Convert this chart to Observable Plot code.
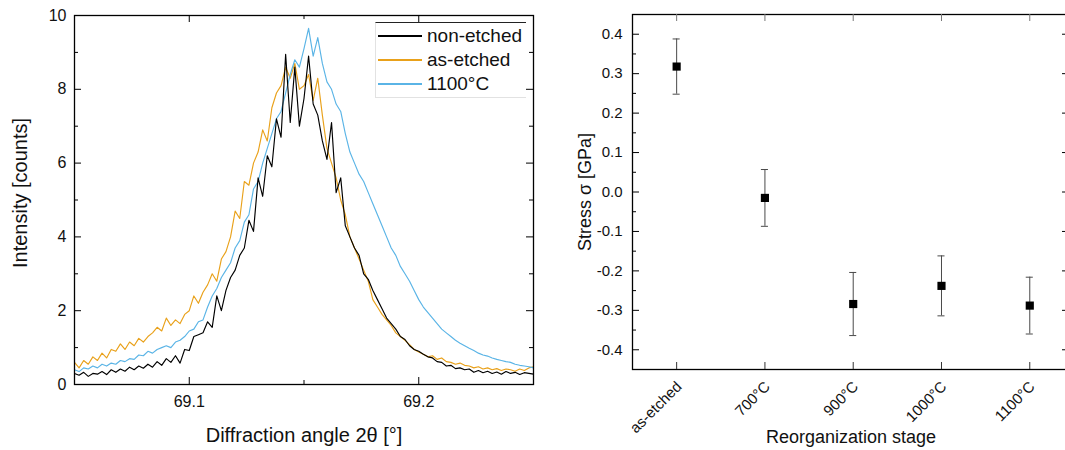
<!DOCTYPE html>
<html><head><meta charset="utf-8">
<script src="https://cdn.jsdelivr.net/npm/d3@7"></script>
<script src="https://cdn.jsdelivr.net/npm/@observablehq/plot@0.6"></script>
<style>
html,body{margin:0;padding:0;background:#fff;width:1065px;height:450px;overflow:hidden;}
#wrap{position:relative;width:1065px;height:450px;overflow:hidden;font-family:"Liberation Sans",Arial,sans-serif;}
#left{position:absolute;left:0;top:0;width:540px;height:450px;}
#right{position:absolute;left:540px;top:0;width:540px;height:450px;}
#wrap svg{max-width:none !important;}
.legend{position:absolute;left:375px;top:22px;width:151px;height:76px;background:#fff;border-top:1px solid #222;border-left:1px solid #e2e2e2;border-bottom:1px solid #e2e2e2;box-sizing:border-box;}
.item{position:absolute;left:2px;height:22px;font-size:19px;color:#111;line-height:22px;white-space:nowrap;}
.item .ln{display:inline-block;width:44px;height:1.6px;vertical-align:middle;margin-right:5px;position:relative;top:-1px;}
</style></head>
<body><div id="wrap"><div id="left"></div><div id="right"></div><div class="legend" id="legend"></div></div>
<script>
// ---------- Left panel data: XRD peak, sampled every 0.002° from 69.05° ----------
const angleStart = 69.05, angleStep = 0.002;
const nonEtched = [
 0.30,0.25,0.33,0.22,0.30,0.28,0.35,0.27,0.40,0.33,
 0.42,0.36,0.47,0.40,0.50,0.44,0.55,0.47,0.62,0.52,
 0.70,0.60,0.78,0.58,0.95,0.92,1.30,1.35,1.40,1.70,
 1.55,2.40,2.00,2.55,2.90,3.10,3.50,3.70,4.45,4.15,
 5.60,5.10,6.20,5.90,7.20,6.70,8.95,7.10,8.60,7.00,
 7.75,8.90,7.60,7.30,6.60,6.10,7.10,5.20,5.60,4.30,
 4.00,3.70,3.50,3.00,2.85,2.55,2.30,2.05,1.80,1.65,
 1.50,1.30,1.22,1.05,0.95,0.90,0.82,0.75,0.72,0.62,
 0.60,0.50,0.52,0.43,0.45,0.40,0.42,0.33,0.38,0.32,
 0.36,0.30,0.34,0.28,0.35,0.30,0.33,0.27,0.32,0.30,0.28];
const asEtched = [
 0.60,0.45,0.65,0.55,0.75,0.65,0.85,0.72,0.95,0.90,
 1.10,0.95,1.15,1.05,1.25,1.15,1.30,1.40,1.55,1.45,
 1.80,1.60,1.75,1.65,1.90,2.00,2.40,2.20,2.50,2.70,
 3.00,2.80,3.40,3.60,4.00,4.70,4.50,5.50,5.40,6.00,
 6.30,6.90,6.60,7.50,7.90,8.10,8.60,8.30,8.70,8.00,
 8.10,8.40,7.70,8.30,7.30,6.40,6.00,5.60,5.00,4.60,
 4.00,3.70,3.40,3.10,2.80,2.30,2.10,1.90,1.75,1.60,
 1.40,1.30,1.20,1.08,0.95,0.88,0.82,0.75,0.78,0.68,
 0.72,0.62,0.60,0.55,0.58,0.52,0.50,0.45,0.48,0.42,
 0.45,0.40,0.43,0.38,0.42,0.40,0.36,0.42,0.38,0.45,0.48];
const annealed1100 = [
 0.40,0.35,0.45,0.42,0.50,0.45,0.55,0.50,0.58,0.55,
 0.65,0.62,0.70,0.68,0.80,0.78,0.90,0.85,0.95,1.00,
 1.05,1.00,1.15,1.20,1.30,1.45,1.50,1.70,1.75,2.10,
 2.40,2.60,2.90,3.10,3.30,3.70,3.90,4.40,4.60,5.30,
 5.50,6.00,6.40,6.80,7.20,7.40,7.90,8.40,8.80,8.60,
 9.10,9.65,8.90,9.40,8.70,8.20,8.00,7.60,7.40,6.80,
 6.30,6.00,5.70,5.50,5.20,4.90,4.60,4.30,4.00,3.70,
 3.50,3.20,3.00,2.80,2.55,2.30,2.10,1.95,1.80,1.65,
 1.50,1.40,1.30,1.20,1.12,1.05,0.98,0.92,0.85,0.80,
 0.77,0.72,0.68,0.65,0.62,0.60,0.55,0.52,0.50,0.48,0.45];
const seriesNames = ["non-etched", "as-etched", "1100°C"];
const seriesColors = ["#000000", "#e9a11a", "#5ab4e6"];
const intensityTicks = [0, 2, 4, 6, 8, 10];
const intensityMinor = [1, 3, 5, 7, 9];
const angleTicks = [69.1, 69.2];
const angleMinor = [69.15];

// ---------- Right panel data ----------
const stages = ["as-etched", "700°C", "900°C", "1000°C", "1100°C"];
const stress = [0.318, -0.015, -0.284, -0.238, -0.288];
const stressErr = [0.070, 0.072, 0.080, 0.076, 0.072];
const stressTicks = [-0.4, -0.3, -0.2, -0.1, 0.0, 0.1, 0.2, 0.3, 0.4];
const stressMinor = [-0.35, -0.25, -0.15, -0.05, 0.05, 0.15, 0.25, 0.35];

const FONT = '"Liberation Sans", Arial, sans-serif';
const baseStyle = {fontFamily: FONT, fontSize: "15px", color: "#111", background: "transparent", overflow: "visible", maxWidth: "none"};

// ---------- Build left panel ----------
const seriesValues = [nonEtched, asEtched, annealed1100];
const rows = [];
seriesValues.forEach((vals, s) => vals.forEach((v, i) => rows.push({angle: angleStart + i * angleStep, value: v, series: seriesNames[s]})));

const LW = 540, LH = 450, Lm = {l: 74, r: 7, t: 15, b: 66};
const LFW = LW - Lm.l - Lm.r, LFH = LH - Lm.t - Lm.b;
const maj = 7, mnr = 4;
const drawOrder = [1, 2, 0];

const leftPlot = Plot.plot({
  width: LW, height: LH,
  marginLeft: Lm.l, marginRight: Lm.r, marginTop: Lm.t, marginBottom: Lm.b,
  x: {domain: [69.05, 69.25], axis: null},
  y: {domain: [0, 10], axis: null},
  style: baseStyle,
  marks: [
    ...drawOrder.map(s => Plot.line(rows.filter(r => r.series === seriesNames[s]), {x: "angle", y: "value", stroke: seriesColors[s], strokeWidth: 1.15})),
    Plot.frame({stroke: "#000", strokeWidth: 1.3}),
    Plot.tickY(intensityTicks, {y: d => d, insetRight: LFW - maj, stroke: "#000"}),
    Plot.tickY(intensityTicks, {y: d => d, insetLeft: LFW - maj, stroke: "#000"}),
    Plot.tickY(intensityMinor, {y: d => d, insetRight: LFW - mnr, stroke: "#000"}),
    Plot.tickY(intensityMinor, {y: d => d, insetLeft: LFW - mnr, stroke: "#000"}),
    Plot.tickX(angleTicks, {x: d => d, insetTop: LFH - maj, stroke: "#000"}),
    Plot.tickX(angleTicks, {x: d => d, insetBottom: LFH - maj, stroke: "#000"}),
    Plot.tickX(angleMinor, {x: d => d, insetTop: LFH - mnr, stroke: "#000"}),
    Plot.tickX(angleMinor, {x: d => d, insetBottom: LFH - mnr, stroke: "#000"}),
    Plot.axisX({ticks: angleTicks, tickSize: 0, tickPadding: 11, fontSize: 16, tickFormat: d => d.toFixed(1), label: null}),
    Plot.axisY({ticks: intensityTicks, tickSize: 0, tickPadding: 8, fontSize: 16, tickFormat: d => String(d), label: null}),
    Plot.text(["Diffraction angle 2θ [°]"], {frameAnchor: "bottom", lineAnchor: "middle", textAnchor: "middle", dy: 51, fontSize: 20, fill: "#111"}),
    Plot.text(["Intensity [counts]"], {frameAnchor: "left", lineAnchor: "middle", textAnchor: "middle", dx: -54, dy: -7, rotate: -90, fontSize: 20, fill: "#111"})
  ]
});
document.getElementById("left").appendChild(leftPlot);

// legend
const legend = document.getElementById("legend");
seriesNames.forEach((name, i) => {
  const it = document.createElement("div");
  it.className = "item";
  it.style.top = (2 + i * 24) + "px";
  const ln = document.createElement("span");
  ln.className = "ln";
  ln.style.background = seriesColors[i];
  it.appendChild(ln);
  it.appendChild(document.createTextNode(name));
  legend.appendChild(it);
});

// ---------- Build right panel ----------
const pts = stages.map((s, i) => ({i, stage: s, v: stress[i], e: stressErr[i]}));
const RW = 540, RH = 450, Rm = {l: 92, r: 11, t: 14, b: 81};
const RFW = RW - Rm.l - Rm.r, RFH = RH - Rm.t - Rm.b;
const capHalf = 0.04;
const idx = stages.map((s, i) => i);

const rightPlot = Plot.plot({
  width: RW, height: RH,
  marginLeft: Rm.l, marginRight: Rm.r, marginTop: Rm.t, marginBottom: Rm.b,
  x: {type: "linear", domain: [-0.5, 4.45], axis: null},
  y: {domain: [-0.45, 0.45], axis: null},
  style: baseStyle,
  marks: [
    Plot.frame({stroke: "#000", strokeWidth: 1.3}),
    Plot.tickY(stressTicks, {y: d => d, insetRight: RFW - maj, stroke: "#000"}),
    Plot.tickY(stressTicks, {y: d => d, insetLeft: RFW - maj, stroke: "#000"}),
    Plot.tickY(stressMinor, {y: d => d, insetRight: RFW - mnr, stroke: "#000"}),
    Plot.tickY(stressMinor, {y: d => d, insetLeft: RFW - mnr, stroke: "#000"}),
    Plot.tickX(idx, {x: d => d, insetTop: RFH - maj, stroke: "#333"}),
    Plot.tickX(idx, {x: d => d, insetBottom: RFH - maj, stroke: "#777"}),
    Plot.ruleX(pts, {x: "i", y1: d => d.v - d.e, y2: d => d.v + d.e, stroke: "#4a4a4a", strokeWidth: 1}),
    Plot.ruleY(pts, {y: d => d.v - d.e, x1: d => d.i - capHalf, x2: d => d.i + capHalf, stroke: "#4a4a4a", strokeWidth: 1}),
    Plot.ruleY(pts, {y: d => d.v + d.e, x1: d => d.i - capHalf, x2: d => d.i + capHalf, stroke: "#4a4a4a", strokeWidth: 1}),
    Plot.dot(pts, {x: "i", y: "v", symbol: "square", r: 4.6, fill: "#000", stroke: null}),
    Plot.axisY({ticks: stressTicks, tickSize: 0, tickPadding: 10, fontSize: 15, tickFormat: d => d.toFixed(1), label: null}),
    Plot.text(pts, {x: "i", frameAnchor: "bottom", text: "stage", rotate: -45, textAnchor: "end", dx: 6, dy: 18, fontSize: 15, fill: "#111"}),
    Plot.text(["Reorganization stage"], {frameAnchor: "bottom", lineAnchor: "middle", textAnchor: "middle", dy: 68, fontSize: 18, fill: "#111"}),
    Plot.text(["Stress σ [GPa]"], {frameAnchor: "left", lineAnchor: "middle", textAnchor: "middle", dx: -47, rotate: -90, fontSize: 18, fill: "#111"})
  ]
});
document.getElementById("right").appendChild(rightPlot);
</script></body></html>
